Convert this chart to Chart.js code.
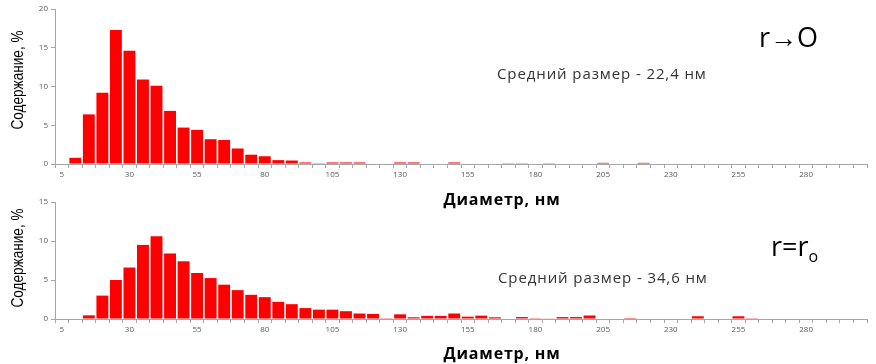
<!DOCTYPE html>
<html>
<head>
<meta charset="utf-8">
<script src="https://cdn.jsdelivr.net/npm/chart.js@4"></script>
<style>
    body { margin: 0; background: #fff; }
    #wrap { position: relative; width: 876px; height: 364px; overflow: hidden; }
    canvas { position: absolute; left: 0; }
    .txt { position: absolute; white-space: nowrap; color: #000; }
    .ytitle { font-family: "Liberation Sans", sans-serif; font-size: 17px;
              transform: translate(-50%, -50%) rotate(-90deg) scaleX(0.8); }
    .xtitle { font-family: "Open Sans", sans-serif; font-weight: bold; font-size: 16px; letter-spacing: 0.8px;
              transform: translate(-50%, -50%); }
    .note { font-family: "Open Sans", sans-serif; font-size: 15px; letter-spacing: 0.9px; color: #333;
            transform: translateY(-50%); }
    .cond { font-family: "Open Sans", sans-serif; font-size: 27px; transform: translateY(-50%); }
</style>
</head>
<body>
<div id="wrap">
    <canvas id="top" width="876" height="182" style="top:0"></canvas>
    <canvas id="bottom" width="876" height="182" style="top:182px"></canvas>

    <div class="txt ytitle" style="left:18px; top:80px">Содержание, %</div>
    <div class="txt xtitle" style="left:502px; top:199px">Диаметр, нм</div>
    <div class="txt note" style="left:497px; top:73px">Средний размер - 22,4 нм</div>
    <div class="txt cond" style="left:759px; top:36px">r→O</div>

    <div class="txt ytitle" style="left:18px; top:258px">Содержание, %</div>
    <div class="txt xtitle" style="left:502px; top:353px">Диаметр, нм</div>
    <div class="txt note" style="left:498px; top:277px">Средний размер - 34,6 нм</div>
    <div class="txt cond" style="left:771px; top:247px">r=r<sub style="font-size:16px">o</sub></div>
</div>
<script>
// diameter bins, nm
var diameters = [5, 10, 15, 20, 25, 30, 35, 40, 45, 50, 55, 60, 65, 70, 75, 80, 85, 90, 95, 100,
    105, 110, 115, 120, 125, 130, 135, 140, 145, 150, 155, 160, 165, 170, 175, 180, 185, 190, 195, 200,
    205, 210, 215, 220, 225, 230, 235, 240, 245, 250, 255, 260, 265, 270, 275, 280, 285, 290, 295, 300];

// r -> 0, mean 22.4 nm
var contentR0 = [0, 0.8, 6.4, 9.2, 17.3, 14.6, 10.9, 10.1, 6.85, 4.7, 4.4, 3.2, 3.1, 2.0, 1.2, 1.0, 0.5, 0.45, 0.2, 0.1,
    0.2, 0.2, 0.2, 0, 0, 0.2, 0.2, 0, 0, 0.2, 0, 0, 0, 0.1, 0.1, 0, 0.1, 0, 0, 0,
    0.15, 0, 0, 0.15, 0, 0, 0, 0, 0, 0, 0, 0, 0, 0, 0, 0, 0, 0, 0, 0];

// r = r0, mean 34.6 nm
var contentRr0 = [0, 0, 0.47, 3.0, 5.0, 6.6, 9.5, 10.6, 8.4, 7.4, 5.9, 5.25, 4.4, 3.7, 3.1, 2.8, 2.2, 1.9, 1.4, 1.2,
    1.2, 1.0, 0.7, 0.65, 0.1, 0.6, 0.22, 0.4, 0.4, 0.7, 0.3, 0.43, 0.22, 0, 0.25, 0.1, 0.08, 0.25, 0.25, 0.45,
    0, 0, 0.12, 0, 0, 0, 0, 0.35, 0, 0, 0.35, 0.1, 0, 0, 0, 0, 0, 0, 0, 0];

var yTicksTop = [0, 5, 10, 15, 20];
var yTicksBottom = [0, 5, 10, 15];

function makeChart(id, values, yTicks, padTop, xHeight) {
    var ctx = document.getElementById(id).getContext("2d");
    return new Chart(ctx, {
        type: "bar",
        data: {
            labels: diameters,
            datasets: [
                {
                    data: values,
                    backgroundColor: "#ff0000",
                    barPercentage: 0.88,
                    categoryPercentage: 1,
                },
            ],
        },
        options: {
            responsive: false,
            animation: false,
            layout: { padding: { top: padTop, right: 9, left: 0, bottom: 0 } },
            plugins: { legend: { display: false }, tooltip: { enabled: false } },
            scales: {
                x: {
                    grid: { drawOnChartArea: false, tickLength: 4, color: "#a6a6a6" },
                    border: { color: "#a6a6a6" },
                    ticks: {
                        autoSkip: false,
                        maxRotation: 0,
                        padding: 2,
                        color: "#595959",
                        font: { family: "Open Sans", size: 8 },
                        callback: function (v, i) {
                            return i % 5 === 0 ? diameters[i] : "";
                        },
                    },
                    afterFit: function (s) { s.height = xHeight; },
                },
                y: {
                    min: yTicks[0],
                    max: yTicks[yTicks.length - 1],
                    afterBuildTicks: function (s) {
                        s.ticks = yTicks.map(function (t) { return { value: t }; });
                    },
                    grid: { drawOnChartArea: false, tickLength: 4, color: "#a6a6a6" },
                    border: { color: "#a6a6a6" },
                    ticks: {
                        padding: 3,
                        color: "#595959",
                        font: { family: "Open Sans", size: 8 },
                    },
                    afterFit: function (s) { s.width = 55; },
                },
            },
        },
    });
}

makeChart("top", contentR0, yTicksTop, 9, 18);
makeChart("bottom", contentRr0, yTicksBottom, 20, 45);
</script>
</body>
</html>
